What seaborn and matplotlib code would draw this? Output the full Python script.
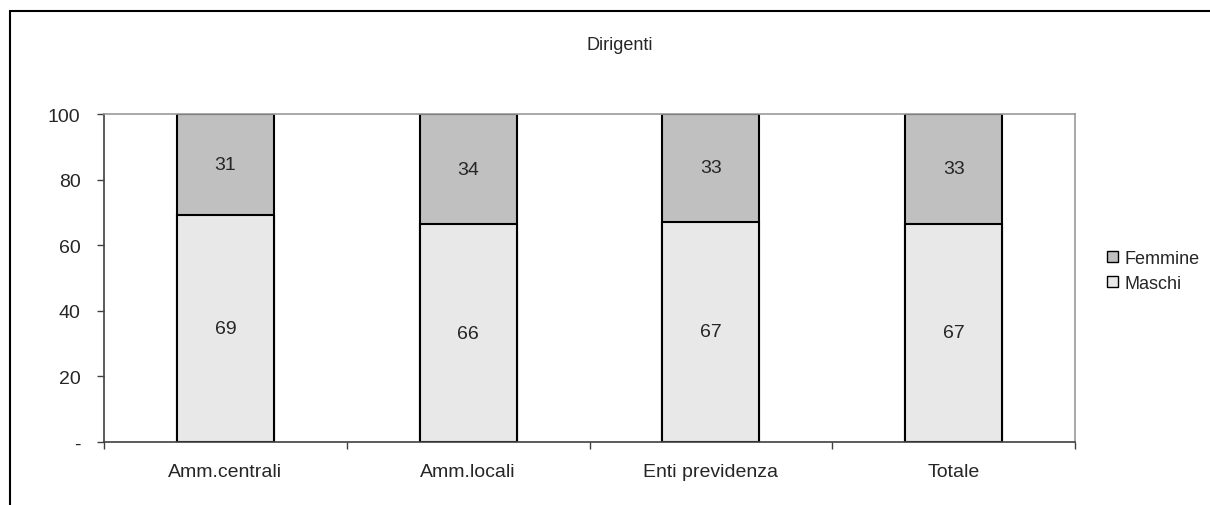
import numpy as np
import pandas as pd
import matplotlib as mpl
mpl.use("Agg")
import matplotlib.pyplot as plt
import seaborn as sns
from matplotlib.patches import Patch, Rectangle

# Data (percent)
categorie = ["Amm.centrali", "Amm.locali", "Enti previdenza", "Totale"]
maschi = [69.2, 66.4, 67.2, 66.6]
femmine = [30.8, 33.6, 32.8, 33.4]

df = pd.DataFrame({"cat": categorie, "Maschi": maschi, "Femmine": femmine})
df["tot"] = df["Maschi"] + df["Femmine"]

sns.set_theme(style="white")
plt.rcParams["font.family"] = ["Liberation Sans", "DejaVu Sans"]

fs = 14

fig = plt.figure(figsize=(12.1, 5.06), dpi=100)
ax = fig.add_axes([104 / 1210, 1 - 443 / 506, (1075 - 104) / 1210, (443 - 115) / 506])

# stacked bars: full bar in Femmine colour, Maschi on top of it
sns.barplot(data=df, x="cat", y="tot", color="#c0c0c0", saturation=1,
            width=0.4, edgecolor="black", linewidth=1.5, ax=ax)
sns.barplot(data=df, x="cat", y="Maschi", color="#e8e8e8", saturation=1,
            width=0.4, edgecolor="black", linewidth=1.5, ax=ax)

for i, (m, f) in enumerate(zip(maschi, femmine)):
    ax.text(i, m / 2, f"{m:.0f}", ha="center", va="center", fontsize=fs)
    ax.text(i, m + f / 2, f"{f:.0f}", ha="center", va="center", fontsize=fs)

ax.set_xlim(-0.5, 3.5)
ax.set_ylim(0, 100)
ax.set_yticks([0, 20, 40, 60, 80, 100])
ax.set_yticklabels(["-", "20", "40", "60", "80", "100"], fontsize=fs)
ax.set_xticks(range(4))
ax.set_xticklabels(categorie, fontsize=fs)
ax.set_xticks([-0.5, 0.5, 1.5, 2.5, 3.5], minor=True)
ax.tick_params(axis="x", which="major", length=0, pad=15)
ax.tick_params(axis="x", which="minor", length=5, width=1, color="#404040", direction="out", bottom=True)
ax.tick_params(axis="y", length=5, width=1, color="#404040", direction="out", left=True, pad=12)
ax.set_xlabel("")
ax.set_ylabel("")

for s in ["top", "right"]:
    ax.spines[s].set_color("#999999")
    ax.spines[s].set_linewidth(1.2)
for s in ["left", "bottom"]:
    ax.spines[s].set_color("#404040")
    ax.spines[s].set_linewidth(1.2)

fig.text(620 / 1210, 1 - 45 / 506, "Dirigenti", ha="center", va="center", fontsize=13)

handles = [Patch(facecolor="#c0c0c0", edgecolor="black", label="Femmine"),
           Patch(facecolor="#e8e8e8", edgecolor="black", label="Maschi")]
fig.legend(handles=handles, loc="center left", bbox_to_anchor=(1098 / 1210, 1 - 272 / 506),
           frameon=False, fontsize=13, handlelength=0.6, handleheight=0.6,
           handletextpad=0.35, labelspacing=0.45, borderpad=0)

# outer frame of the chart area
fig.patches.append(Rectangle((10 / 1210, -0.1), 1.2, 1 - 12 / 506 + 0.1,
                             transform=fig.transFigure, fill=False,
                             edgecolor="black", linewidth=1.5))

fig.savefig("out.png", dpi=100)
